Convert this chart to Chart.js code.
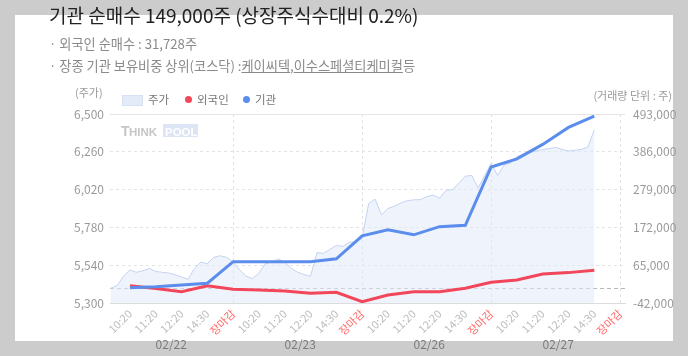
<!DOCTYPE html>
<html><head><meta charset="utf-8">
<script src="https://cdn.jsdelivr.net/npm/chart.js@4.4.1/dist/chart.umd.min.js"></script>
<style>
html,body{margin:0;padding:0;width:688px;height:356px;overflow:hidden;background:#cccccc;font-family:"Noto Sans CJK KR","Noto Sans",sans-serif;}
#panel{position:absolute;left:15px;top:15px;width:658px;height:326px;background:#fff;}
#c{position:absolute;left:0;top:0;}
.t{position:absolute;white-space:nowrap;}
#title{left:49px;top:2px;font-size:19px;line-height:25px;color:#222;}
#s1{left:49px;top:36px;font-size:13.2px;line-height:16px;color:#8a8a8a;}
#s2{left:49px;top:58px;font-size:13.2px;line-height:16px;color:#8a8a8a;}
#s2 u{text-decoration:underline;}
#unitL{left:75px;top:85px;font-size:11px;line-height:14px;color:#9a9a9a;}
#unitR{right:16px;top:88px;font-size:11px;line-height:14px;color:#9a9a9a;}
.lg{top:92px;font-size:11.5px;line-height:14px;color:#777;}
#box{position:absolute;left:122px;top:95px;width:19px;height:9px;background:#e4ebf8;border:1px solid #d8e1f4;}
.dot{position:absolute;top:95.5px;width:7px;height:7px;border-radius:50%;}
</style></head>
<body>
<div id="panel"></div>
<canvas id="c" width="688" height="356"></canvas>
<div class="t" id="title">기관 순매수 149,000주 (상장주식수대비 0.2%)</div>
<div class="t" id="s1">· 외국인 순매수 : 31,728주</div>
<div class="t" id="s2">· 장종 기관 보유비중 상위(코스닥) :<u>케이씨텍</u>,<u>이수스페셜티케미컬</u>등</div>
<div class="t" id="unitL">(주가)</div>
<div class="t" id="unitR">(거래량 단위 : 주)</div>
<div id="box"></div>
<div class="t lg" style="left:148px">주가</div>
<div class="dot" style="left:184.5px;background:#f2475a"></div>
<div class="t lg" style="left:197px">외국인</div>
<div class="dot" style="left:242.5px;background:#5b8ded"></div>
<div class="t lg" style="left:255px">기관</div>
<script>
const xLabels = ['10:20','11:20','12:20','14:30','장마감','10:20','11:20','12:20','14:30','장마감','10:20','11:20','12:20','14:30','장마감','10:20','11:20','12:20','14:30','장마감'];
const dates = ['02/22','02/23','02/26','02/27'];
const leftTicks = [5300,5540,5780,6020,6260,6500];
const rightTicks = [-42000,65000,172000,279000,386000,493000];
const instValues = [1500,4300,9000,14000,75000,75000,75000,75000,83000,148000,165000,151000,174000,178000,343000,366000,407000,455000,487000];
const foreignValues = [7100,-1000,-10000,7000,-3000,-5000,-8000,-14500,-11600,-38400,-19300,-10000,-10000,-300,16800,23300,40300,44000,50900];
// intraday price, one sample per quarter label-step, from the open of 02/22 to 14:30 of 02/27
const priceValues = [5394,5410,5470,5510,5495,5505,5520,5500,5495,5490,5480,5465,5450,5520,5560,5550,5590,5600,5590,5560,
  5510,5470,5455,5490,5550,5560,5580,5560,5520,5495,5480,5470,5620,5615,5640,5665,5660,5685,5690,5710,
  5930,5960,5860,5900,5915,5935,5950,5955,5956,5975,5985,5965,6015,6020,6060,6105,6110,6030,6110,6185,
  6110,6175,6190,6230,6245,6256,6265,6275,6280,6288,6275,6265,6270,6275,6290,6400];
const PRICE_START = -0.75, PRICE_STEP = 0.25;
const FONT = '"Noto Sans CJK KR","Noto Sans",sans-serif';

const extras = {
  id:'extras',
  beforeDatasetsDraw(chart){
    const {ctx, chartArea:a, scales} = chart;
    const y0 = scales.yR.getPixelForValue(0);
    ctx.save();
    ctx.strokeStyle = '#b8b8b8'; ctx.lineWidth = 1; ctx.setLineDash([4,3]);
    ctx.beginPath(); ctx.moveTo(a.left, Math.round(y0)+0.5); ctx.lineTo(a.right, Math.round(y0)+0.5); ctx.stroke();
    ctx.setLineDash([]);
    // watermark
    const wx = a.left + 11, wy = a.top + 22;
    ctx.fillStyle = '#dde5f5'; ctx.fillRect(wx+42, wy-12, 35, 13);
    ctx.fillStyle = '#c6c6c6'; ctx.textBaseline = 'alphabetic'; ctx.textAlign = 'left';
    ctx.font = 'bold 14px "Liberation Sans"'; ctx.fillText('T', wx, wy);
    ctx.font = 'bold 11.5px "Liberation Sans"'; ctx.fillText('HINK', wx+8, wy);
    ctx.fillStyle = '#ffffff'; ctx.fillText('POOL', wx+44, wy);
    ctx.restore();
  },
  afterDraw(chart){
    const {ctx, scales} = chart;
    ctx.save();
    ctx.fillStyle = '#7a7a7a'; ctx.font = '12px ' + FONT; ctx.textAlign = 'center'; ctx.textBaseline = 'middle';
    dates.forEach((d,i)=>{ ctx.fillText(d, scales.x.getPixelForValue(i*5+1.6), 344); });
    ctx.restore();
  }
};

new Chart(document.getElementById('c'), {
  type:'line',
  data:{datasets:[
    {label:'기관', data: instValues.map((v,i)=>({x:i,y:v})), yAxisID:'yR', borderColor:'#5b8ded', borderWidth:3, pointRadius:0, tension:0, fill:false, order:1},
    {label:'외국인', data: foreignValues.map((v,i)=>({x:i,y:v})), yAxisID:'yR', borderColor:'#f2475a', borderWidth:3, pointRadius:0, tension:0, fill:false, order:2},
    {label:'주가', data: priceValues.map((v,i)=>({x:PRICE_START+i*PRICE_STEP,y:v})), yAxisID:'yL', borderColor:'#c4d2f1', borderWidth:1, backgroundColor:'rgba(226,234,250,0.55)', fill:'start', pointRadius:0, tension:0, order:3}
  ]},
  options:{
    responsive:false, animation:false, devicePixelRatio:1,
    layout:{padding:{top:114,left:0,right:0,bottom:0}},
    plugins:{legend:{display:false}, tooltip:{enabled:false}},
    scales:{
      x:{type:'linear', min:-0.775, max:19.19,
        afterBuildTicks:s=>{s.ticks = xLabels.map((_,i)=>({value:i}));},
        afterFit:s=>{s.height = 53;},
        ticks:{callback:v=>xLabels[v], color:c=>(c.index%5===4?'#ff6a6a':'#bdbdbd'), font:{size:11,family:FONT}, minRotation:45, maxRotation:45, autoSkip:false, padding:4},
        grid:{drawTicks:false, color:c=>(c.index%5===4?'#e2e2e2':'rgba(0,0,0,0)'), lineWidth:1},
        border:{display:true, color:'#dcdcdc', dash:[3,3]}
      },
      yL:{position:'left', min:5300, max:6500,
        afterBuildTicks:s=>{s.ticks = leftTicks.map(v=>({value:v}));},
        afterFit:s=>{s.width = 110;},
        ticks:{callback:v=>v.toLocaleString('en-US'), color:'#9a9a9a', font:{size:12,family:FONT}, padding:6},
        grid:{drawTicks:false, color:c=>(c.index===0?'rgba(0,0,0,0)':'#e4e4e4')},
        border:{display:false, dash:c=>(c.index===leftTicks.length-1?[]:[3,3])}
      },
      yR:{position:'right', min:-42000, max:493000,
        afterBuildTicks:s=>{s.ticks = rightTicks.map(v=>({value:v}));},
        afterFit:s=>{s.width = 63;},
        ticks:{callback:v=>v.toLocaleString('en-US'), color:'#9a9a9a', font:{size:12,family:FONT}, padding:8},
        grid:{drawOnChartArea:false, drawTicks:false},
        border:{display:false}
      }
    }
  },
  plugins:[extras]
});
</script>
</body></html>
